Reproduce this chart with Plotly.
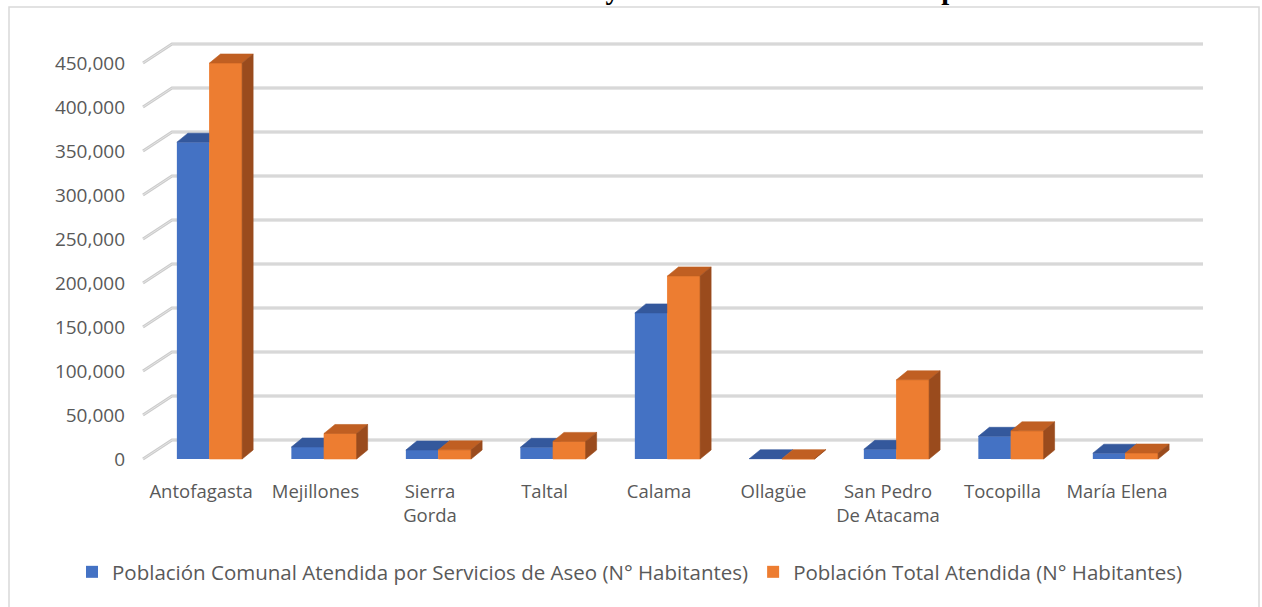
import plotly.graph_objects as go

# ---------------- data ----------------
categories = ["Antofagasta", "Mejillones", "Sierra Gorda", "Taltal", "Calama",
              "Ollagüe", "San Pedro De Atacama", "Tocopilla", "María Elena"]
tick_text = ["Antofagasta", "Mejillones", "Sierra<br>Gorda", "Taltal", "Calama",
             "Ollagüe", "San Pedro<br>De Atacama", "Tocopilla", "María Elena"]
comunal = [360000, 13600, 10200, 13300, 166000, 320, 11000, 25800, 6600]
total = [450000, 29000, 10400, 20000, 208000, 400, 90000, 32000, 6800]
y_ticks = [0, 50000, 100000, 150000, 200000, 250000, 300000, 350000, 400000, 450000]

name_a = "Población Comunal Atendida por Servicios de Aseo (N° Habitantes)"
name_b = "Población Total Atendida (N° Habitantes)"
title_text = ("Gráfico N° 3: Población Comunal Atendida y Población Total "
              "Atendida por Servicios de Aseo")

# ---------------- geometry helpers ----------------
W, H = 1262, 607
ML, MR, MT, MB = 140, 47, 25, 137
XR = [-0.607, 8.782]
YR = [-12500, 493182]
PW, PH = W - ML - MR, H - MT - MB


def dxp(px):
    return px * (XR[1] - XR[0]) / PW


def dyp(px):
    return px * (YR[1] - YR[0]) / PH


def paper_x(px):
    return (px - ML) / PW


def paper_y(py):
    return (PH + MT - py) / PH


BW = 0.285                   # bar width in category units
DX, DY = dxp(11), dyp(9)     # bar depth offset
GDX, GDY = dxp(29), dyp(19)  # back-wall offset for gridlines

BLUE, ORANGE = "#4472C4", "#ED7D31"
BLUE_TOP, ORANGE_TOP, ORANGE_SIDE = "#34589C", "#C05F22", "#9A4B1D"
TXT = "#595959"

idx = list(range(len(categories)))


def top_faces(offset, vals):
    xs, ys = [], []
    for i, v in zip(idx, vals):
        a, b = i + offset, i + offset + BW
        xs += [a, b, b + DX, a + DX, a, None]
        ys += [v, v, v + DY, v + DY, v, None]
    return xs, ys


def side_faces(offset, vals):
    xs, ys = [], []
    for i, v in zip(idx, vals):
        b = i + offset + BW
        xs += [b, b, b + DX, b + DX, b, None]
        ys += [0, v, v + DY, DY, 0, None]
    return xs, ys


def front_faces(offset, vals):
    xs, ys = [], []
    for i, v in zip(idx, vals):
        a, b = i + offset, i + offset + BW
        xs += [a, b, b, a, a, None]
        ys += [0, 0, v, v, 0, None]
    return xs, ys


fig = go.Figure()

fig.add_trace(go.Bar(x=idx, y=comunal, width=BW, offset=-BW, name=name_a,
                     marker=dict(color=BLUE, line=dict(width=0)), hoverinfo="skip"))
fig.add_trace(go.Bar(x=idx, y=total, width=BW, offset=0, name=name_b,
                     marker=dict(color=ORANGE, line=dict(width=0)), hoverinfo="skip"))


def poly(xy, color):
    fig.add_trace(go.Scatter(x=xy[0], y=xy[1], mode="lines", fill="toself",
                             fillcolor=color, line=dict(width=0.6, color=color),
                             showlegend=False, hoverinfo="skip", cliponaxis=False))


poly(top_faces(-BW, comunal), BLUE_TOP)
poly(front_faces(0, total), ORANGE)
poly(top_faces(0, total), ORANGE_TOP)
poly(side_faces(0, total), ORANGE_SIDE)

# back-wall gridlines with left-wall diagonals
shapes = []
x_fl = XR[0] + dxp(3)
x_bl = x_fl + GDX
x_br = XR[1] - dxp(12)
for v in y_ticks:
    path = f"M {x_fl},{v} L {x_bl},{v + GDY} L {x_br},{v + GDY}"
    shapes.append(dict(type="path", path=path, xref="x", yref="y", layer="below",
                       line=dict(color="#CCCCCC", width=3)))
    shapes.append(dict(type="path", path=path, xref="x", yref="y", layer="below",
                       line=dict(color="#E4E4E4", width=1)))

# outer chart border
shapes.append(dict(type="rect", xref="paper", yref="paper",
                   x0=paper_x(9), x1=paper_x(1259), y0=paper_y(700), y1=paper_y(7),
                   line=dict(color="#D9D9D9", width=1.5), fillcolor="rgba(0,0,0,0)",
                   layer="below"))

fig.update_layout(
    width=W, height=H,
    margin=dict(l=ML, r=MR, t=MT, b=MB),
    paper_bgcolor="white", plot_bgcolor="white",
    barmode="overlay",
    showlegend=True,
    shapes=shapes,
    font=dict(family="Open Sans", color=TXT),
    xaxis=dict(range=XR, tickvals=[i - 0.074 for i in idx], ticktext=tick_text,
               showgrid=False, zeroline=False, showline=False, ticks="",
               ticklabelstandoff=8,
               tickfont=dict(size=18.5, color=TXT, family="Open Sans")),
    yaxis=dict(range=YR, tickvals=y_ticks, tickformat=",", showgrid=False,
               zeroline=False, showline=False, ticks="", ticklabelstandoff=14,
               tickfont=dict(size=19, color=TXT, family="Open Sans")),
    legend=dict(orientation="h", x=paper_x(72), xanchor="left",
                y=paper_y(572), yanchor="middle",
                font=dict(size=20.5, color=TXT, family="Open Sans"),
                bgcolor="rgba(0,0,0,0)", traceorder="normal"),
    annotations=[dict(text=f"<b>{title_text}</b>", xref="paper", yref="paper",
                      x=paper_x(635), y=paper_y(7.5), xanchor="center",
                      yanchor="bottom", showarrow=False,
                      font=dict(family="Liberation Serif", size=28.5, color="black"))],
)

fig.write_html("out.html",
               config={"displayModeBar": False},
               post_script="document.body.style.margin='0px';"
                           "document.body.style.overflow='hidden';")
